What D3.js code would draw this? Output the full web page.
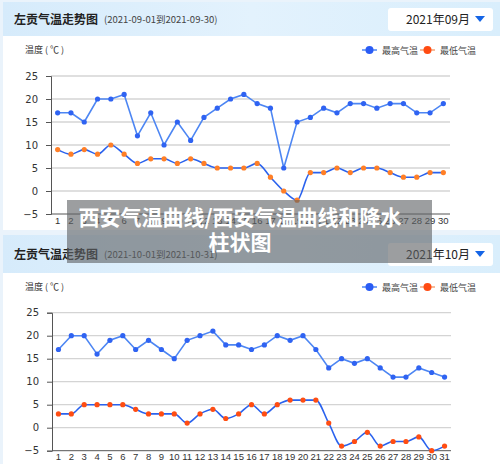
<!DOCTYPE html>
<html><head><meta charset="utf-8">
<script src="https://cdn.jsdelivr.net/npm/d3@7"></script>
<style>
html,body{margin:0;padding:0;background:#eaf3fb;}
svg{display:block;font-family:"Noto Sans CJK SC","Noto Sans",sans-serif;}
</style></head>
<body>
<svg id="chart" width="500" height="464"></svg>
<script>
// ---- data ----
const sepDays = d3.range(1, 31).map(String);
const sepHigh = [17,17,15,20,20,21,12,17,10,15,11,16,18,20,21,19,18,5,15,16,18,17,19,19,18,19,19,17,17,19];
const sepLow  = [9,8,9,8,10,8,6,7,7,6,7,6,5,5,5,6,3,0,-2,4,4,5,4,5,5,4,3,3,4,4];
const octDays = d3.range(1, 32).map(String);
const octHigh = [17,20,20,16,19,20,17,19,17,15,19,20,21,18,18,17,18,20,19,20,17,13,15,14,15,13,11,11,13,12,11];
const octLow  = [3,3,5,5,5,5,4,3,3,3,1,3,4,2,3,5,3,5,6,6,6,1,-4,-3,-1,-4,-3,-3,-2,-5,-4];
const yTicks = [-5, 0, 5, 10, 15, 20, 25];
const seriesNames = ["最高气温", "最低气温"];
const titleText = "左贡气温走势图";
const sepRange = "(2021-09-01到2021-09-30)";
const octRange = "(2021-10-01到2021-10-31)";
const sepMonth = "2021年09月";
const octMonth = "2021年10月";
const yLabel = "温度 ( ℃ )";
const overlayLines = ["西安气温曲线/西安气温曲线和降水", "柱状图"];

const svg = d3.select("#chart");
const defs = svg.append("defs");
const grad = defs.append("linearGradient").attr("id","hdr").attr("x1","0").attr("x2","1").attr("y1","0").attr("y2","0");
grad.append("stop").attr("offset","0").attr("stop-color","#d6ebfb");
grad.append("stop").attr("offset","0.5").attr("stop-color","#e3f2fd");
grad.append("stop").attr("offset","1").attr("stop-color","#d9eefc");

function drawPanel(top, days, high, low, range, month, plot, panelH, lowMarker) {
  const g = svg.append("g").attr("transform", `translate(0,${top})`);
  g.append("rect").attr("x",3).attr("y",0).attr("width",497).attr("height",panelH).attr("fill","#fff");
  g.append("rect").attr("x",3).attr("y",0).attr("width",497).attr("height",plot.hdrH).attr("fill","url(#hdr)");
  g.append("text").attr("x",14).attr("y",plot.hdrH/2+5).attr("font-size",12).attr("font-weight","bold").attr("fill","#222").text(titleText);
  g.append("text").attr("x",104).attr("y",plot.hdrH/2+4).attr("font-size",9.5).attr("fill","#444").text(range);
  // dropdown
  g.append("rect").attr("x",388).attr("y",plot.hdrH/2-11).attr("width",105).attr("height",23).attr("rx",3).attr("fill","#fff");
  g.append("text").attr("x",470).attr("y",plot.hdrH/2+5).attr("text-anchor","end").attr("font-size",12).attr("fill","#222").text(month);
  g.append("path").attr("d",`M475,${plot.hdrH/2-3} L485,${plot.hdrH/2-3} L480,${plot.hdrH/2+3}Z`).attr("fill","#1565e6");

  // y label
  g.append("text").attr("x",25).attr("y",plot.labY).attr("font-size",9).attr("fill","#333").text(yLabel);
  // legend
  const leg = g.append("g").attr("transform",`translate(0,${plot.labY-3})`);
  [[362,"#4d86f3","#2a5cf5",seriesNames[0]],[420,"#f5a478","#ff4b12",seriesNames[1]]].forEach(([x,lc,dc,t])=>{
    leg.append("line").attr("x1",x).attr("x2",x+15).attr("y1",0).attr("y2",0).attr("stroke",lc).attr("stroke-width",1.5);
    leg.append("circle").attr("cx",x+7.5).attr("cy",0).attr("r",4).attr("fill",dc);
    leg.append("text").attr("x",x+20).attr("y",3.5).attr("font-size",9).attr("fill","#444").text(t);
  });

  const x = d3.scaleBand().domain(days).range([plot.left, plot.right]);
  const y = d3.scaleLinear().domain([-5, 25]).range([plot.bottom, plot.top]);
  // grid
  g.append("g").selectAll("line").data(yTicks.filter(v=>v>-5)).join("line")
    .attr("x1",plot.left).attr("x2",plot.right).attr("y1",d=>y(d)).attr("y2",d=>y(d))
    .attr("stroke","#d4d4d4").attr("stroke-width",1.3);
  const ya = g.append("g").attr("transform",`translate(${plot.left},0)`)
    .call(d3.axisLeft(y).tickValues(yTicks).tickSize(5).tickPadding(8));
  ya.select(".domain").attr("stroke","#555");
  ya.selectAll(".tick line").attr("stroke","#555");
  ya.selectAll("text").attr("font-size",10).attr("fill","#333").attr("font-family","'DejaVu Sans',sans-serif");
  const xa = g.append("g").attr("transform",`translate(0,${plot.bottom})`)
    .call(d3.axisBottom(x).tickSize(0).tickPadding(3));
  xa.select(".domain").attr("stroke","#555").attr("d",`M${plot.left},0H${plot.right}`);
  xa.selectAll("text").attr("font-size",9.5).attr("fill","#333").attr("font-family","'Liberation Sans',sans-serif");

  const cx = (d,i)=>x(days[i]) + x.bandwidth()/2;
  const line = d3.line().x((d,i)=>cx(d,i)).y(d=>y(d));
  g.append("path").datum(high).attr("d",line).attr("fill","none").attr("stroke","#4d86f3").attr("stroke-width",1.6);
  g.append("path").datum(low).attr("d",line.curve(d3.curveMonotoneX)).attr("fill","none").attr("stroke","#2a62ee").attr("stroke-width",1.6);
  g.append("g").selectAll("circle").data(high).join("circle").attr("cx",cx).attr("cy",d=>y(d)).attr("r",2.6).attr("fill","#2f63f2");
  g.append("g").selectAll("circle").data(low).join("circle").attr("cx",cx).attr("cy",d=>y(d)).attr("r",2.6).attr("fill",lowMarker);
}

drawPanel(2, sepDays, sepHigh, sepLow, sepRange, sepMonth,
  {hdrH:34, labY:51, left:51, right:450, top:74, bottom:212}, 228, "#ff7f27");
drawPanel(235, octDays, octHigh, octLow, octRange, octMonth,
  {hdrH:38, labY:55, left:52, right:451, top:77.7, bottom:215.7}, 229, "#ff4d12");

// overlay banner
svg.append("rect").attr("x",67).attr("y",200).attr("width",365).attr("height",63).attr("fill","#5f6266").attr("opacity",0.62);
svg.append("g").selectAll("text").data(overlayLines).join("text")
  .attr("x",240).attr("y",(d,i)=>225+i*25).attr("text-anchor","middle")
  .attr("font-size",21).attr("font-weight","bold").attr("fill","#fff").text(d=>d);
</script>
</body></html>
